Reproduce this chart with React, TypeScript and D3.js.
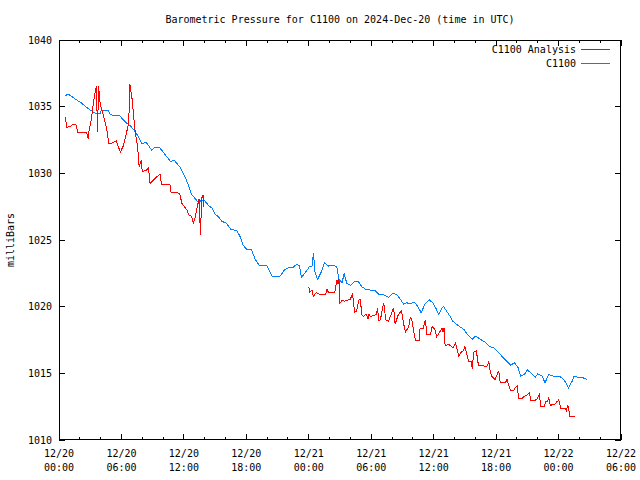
import React from "react";
import * as d3 from "d3";

const title = "Barometric Pressure for C1100 on 2024-Dec-20 (time in UTC)";
const yLabel = "milliBars";
const seriesNames = ["C1100 Analysis", "C1100"];
const seriesColors = ["#ff0000", "#0080ff"];
const yTicks = [1010, 1015, 1020, 1025, 1030, 1035, 1040];
const xTickHours = [0, 6, 12, 18, 24, 30, 36, 42, 48, 54];
const xTickLabels = [
  ["12/20", "00:00"], ["12/20", "06:00"], ["12/20", "12:00"], ["12/20", "18:00"],
  ["12/21", "00:00"], ["12/21", "06:00"], ["12/21", "12:00"], ["12/21", "18:00"],
  ["12/22", "00:00"], ["12/22", "06:00"],
];

// hours since 12/20 00:00 UTC, pressure in mb
const blueData: [number, number][] = [
  [0.6,1035.8],[0.85,1035.95],[1.15,1035.8],[1.7,1035.5],[2.2,1035.25],[2.65,1034.95],[3.0,1034.75],[3.6,1034.45],[3.95,1034.5],[4.1,1034.75],[4.75,1034.7],[4.9,1034.45],[5.2,1034.35],[5.85,1034.3],[6.2,1034.0],[6.5,1033.75],[6.8,1033.6],[7.15,1033.3],[7.5,1032.9],[7.8,1032.5],[7.95,1032.25],[8.4,1032.3],[8.9,1031.75],[9.2,1031.95],[9.7,1031.9],[10.2,1031.4],[10.7,1030.9],[11.1,1030.95],[11.6,1030.5],[12.1,1029.75],[12.45,1029.1],[12.75,1028.4],[13.1,1028.1],[13.4,1027.8],[13.7,1028.0],[14.0,1027.95],[14.35,1027.6],[14.7,1027.4],[15.0,1026.95],[15.3,1026.75],[15.65,1026.4],[16.1,1026.25],[16.5,1025.8],[17.1,1025.7],[17.4,1025.25],[17.7,1024.6],[18.05,1024.3],[18.5,1024.25],[18.85,1023.55],[19.25,1023.1],[19.95,1023.1],[20.45,1022.3],[21.25,1022.3],[21.7,1022.8],[22.2,1022.95],[22.5,1022.95],[22.85,1023.2],[23.1,1023.05],[23.3,1022.2],[23.8,1022.7],[24.1,1023.05],[24.3,1023.0],[24.45,1024.05],[24.6,1022.6],[24.85,1022.05],[25.2,1022.6],[25.5,1023.3],[25.9,1023.05],[26.4,1023.1],[26.7,1022.95],[26.9,1022.05],[27.2,1021.8],[27.4,1022.5],[27.65,1021.75],[28.0,1021.6],[28.4,1021.9],[28.8,1021.85],[29.1,1021.5],[29.45,1021.3],[29.9,1021.25],[30.4,1021.2],[30.7,1020.95],[31.2,1020.9],[31.65,1020.7],[32.05,1021.0],[32.45,1020.9],[32.8,1020.55],[33.1,1020.2],[33.4,1020.3],[33.75,1020.2],[34.1,1020.35],[34.4,1020.1],[34.8,1019.55],[35.2,1020.25],[35.6,1020.5],[35.9,1020.3],[36.2,1019.9],[36.5,1019.4],[36.8,1019.9],[36.95,1020.0],[37.3,1019.6],[37.6,1019.25],[37.85,1018.9],[38.4,1018.55],[38.9,1018.3],[39.2,1017.95],[39.7,1017.55],[40.0,1017.8],[40.5,1017.55],[41.0,1017.3],[41.4,1017.0],[41.8,1016.9],[42.3,1016.5],[42.65,1016.2],[43.05,1015.9],[43.4,1015.6],[43.75,1015.8],[44.1,1015.45],[44.35,1014.8],[44.7,1014.9],[45.0,1015.25],[45.4,1015.0],[45.75,1014.7],[46.0,1014.95],[46.4,1014.8],[46.7,1014.3],[47.05,1014.9],[47.5,1014.8],[48.15,1014.75],[48.55,1014.5],[48.95,1013.9],[49.3,1014.4],[49.5,1014.8],[49.9,1014.7],[50.4,1014.65],[50.7,1014.55],
];

const redSeg1: [number, number][] = [
  [0.6,1034.2],[0.75,1033.45],[1.05,1033.5],[1.4,1033.7],[1.6,1033.7],[1.8,1033.1],[2.65,1033.1],[2.8,1032.6],[2.9,1033.3],[3.1,1034.0],[3.3,1035.25],[3.5,1036.25],[3.6,1036.55],[3.7,1033.1],[3.8,1036.55],[3.95,1035.25],[4.25,1034.4],[4.6,1033.25],[4.8,1032.2],[5.2,1032.3],[5.5,1032.45],[5.75,1031.9],[5.9,1031.6],[6.2,1032.1],[6.5,1033.1],[6.7,1033.75],[6.8,1036.7],[7.0,1035.75],[7.3,1033.25],[7.55,1032.0],[7.7,1030.5],[7.9,1031.0],[8.0,1030.1],[8.4,1030.25],[8.6,1030.4],[8.75,1029.25],[9.2,1029.6],[9.7,1029.95],[9.8,1029.4],[9.85,1029.2],[10.65,1029.2],[10.75,1028.6],[11.6,1028.5],[11.8,1027.75],[12.3,1027.25],[12.45,1026.9],[12.75,1026.75],[12.9,1026.25],[13.1,1026.75],[13.45,1028.1],[13.6,1025.4],[13.7,1028.1],[13.85,1028.4],[13.9,1027.5],
];

const redSeg2: [number, number][] = [
  [24.0,1021.45],[24.1,1021.1],[24.3,1021.25],[24.45,1020.75],[24.7,1021.05],[24.9,1021.0],[25.1,1020.9],[25.6,1020.9],[25.75,1021.3],[25.9,1021.05],[26.5,1021.1],[26.7,1022.0],[26.8,1021.7],[26.9,1022.05],[27.0,1020.25],[27.2,1020.5],[27.4,1020.4],[27.75,1020.5],[28.0,1020.55],[28.2,1021.0],[28.4,1019.6],[28.6,1019.65],[28.8,1020.5],[28.95,1020.55],[29.1,1019.4],[29.25,1019.25],[29.5,1019.45],[29.7,1019.1],[29.8,1019.45],[29.9,1019.25],[30.5,1019.4],[30.6,1019.9],[30.75,1018.9],[30.9,1019.1],[31.2,1020.3],[31.4,1019.0],[31.65,1018.9],[32.0,1019.6],[32.15,1019.9],[32.3,1018.7],[32.6,1019.4],[32.9,1019.7],[33.1,1018.75],[33.3,1018.1],[33.6,1018.5],[33.75,1019.2],[33.9,1019.0],[34.1,1018.1],[34.25,1017.5],[34.6,1017.5],[34.7,1018.4],[35.0,1018.4],[35.2,1019.0],[35.35,1017.9],[35.7,1017.9],[35.85,1018.5],[36.1,1018.3],[36.3,1017.75],[36.5,1018.0],[36.8,1018.4],[36.9,1018.1],[37.0,1018.4],[37.1,1017.1],[37.5,1017.15],[37.85,1016.9],[38.1,1017.3],[38.4,1016.3],[38.6,1016.55],[38.85,1016.7],[39.0,1017.0],[39.2,1016.4],[39.35,1015.9],[39.65,1015.85],[39.7,1015.3],[39.85,1016.6],[40.1,1016.7],[40.3,1015.6],[40.6,1015.6],[41.0,1015.5],[41.15,1015.55],[41.3,1015.9],[41.4,1015.25],[41.6,1014.75],[41.9,1014.55],[42.1,1014.9],[42.25,1015.2],[42.4,1014.3],[42.9,1014.3],[43.05,1014.55],[43.2,1014.1],[43.4,1013.7],[43.7,1013.7],[43.8,1013.9],[44.05,1014.1],[44.15,1013.1],[44.5,1013.1],[44.65,1013.25],[45.0,1013.4],[45.2,1013.55],[45.35,1012.95],[45.65,1012.95],[45.9,1013.05],[46.15,1013.4],[46.3,1012.5],[46.6,1012.5],[46.8,1012.9],[46.95,1012.85],[47.05,1013.25],[47.2,1012.6],[47.7,1012.7],[47.85,1012.9],[47.95,1012.9],[48.0,1013.1],[48.2,1012.4],[48.6,1012.4],[48.75,1012.2],[48.9,1012.6],[49.1,1011.75],[49.6,1011.75],
];

const W = 640, H = 480;
const L = 59, R = 621, T = 40, B = 440;
const FONT = "'DejaVu Sans Mono', 'Liberation Mono', monospace";

export default function App() {
  const x = d3.scaleLinear().domain([0, 54]).range([L, R]);
  const y = d3.scaleLinear().domain([1010, 1040]).range([B, T]);
  const line = d3.line<[number, number]>().x(d => x(d[0])).y(d => y(d[1]));
  const minor = d3.range(0, 55, 2).filter(h => h % 6 !== 0);

  return (
    <svg width={W} height={H} style={{ position: "absolute", left: 0, top: 0, background: "#fff" }}
      fontFamily={FONT} fontSize={10}>
      <rect x={0} y={0} width={W} height={H} fill="#fff" />
      <text x={(L + R) / 2} y={23} textAnchor="middle" fill="#000">{title}</text>
      <text transform={`translate(14,${(T + B) / 2}) rotate(-90)`} textAnchor="middle" fill="#000">{yLabel}</text>

      <g stroke="#000" strokeWidth={1} shapeRendering="crispEdges">
        {yTicks.map(v => (
          <g key={v}>
            <line x1={L} x2={L + 6} y1={y(v)} y2={y(v)} />
            <line x1={R - 6} x2={R} y1={y(v)} y2={y(v)} />
          </g>
        ))}
        {xTickHours.map(h => (
          <g key={h}>
            <line x1={x(h)} x2={x(h)} y1={B} y2={B - 6} />
            <line x1={x(h)} x2={x(h)} y1={T} y2={T + 6} />
          </g>
        ))}
        {minor.map(h => (
          <g key={h}>
            <line x1={x(h)} x2={x(h)} y1={B} y2={B - 3} />
            <line x1={x(h)} x2={x(h)} y1={T} y2={T + 3} />
          </g>
        ))}
      </g>

      {yTicks.map(v => (
        <text key={v} x={52} y={y(v)} dy="0.35em" textAnchor="end" fill="#000">{v}</text>
      ))}
      {xTickHours.map((h, i) => (
        <g key={h}>
          <text x={x(h)} y={457} textAnchor="middle" fill="#000">{xTickLabels[i][0]}</text>
          <text x={x(h)} y={471} textAnchor="middle" fill="#000">{xTickLabels[i][1]}</text>
        </g>
      ))}

      <g fill="none" strokeWidth={1} strokeLinejoin="miter" shapeRendering="crispEdges">
        <path d={line(blueData) || ""} stroke={seriesColors[1]} />
        <path d={line(redSeg1) || ""} stroke={seriesColors[0]} />
        <path d={line(redSeg2) || ""} stroke={seriesColors[0]} />
      </g>

      {seriesNames.map((n, i) => (
        <g key={n}>
          <text x={576} y={49 + i * 14} dy="0.35em" textAnchor="end" fill="#000">{n}</text>
          <rect x={581} y={49 + i * 14} width={29} height={1} fill={seriesColors[i]} stroke="none" />
        </g>
      ))}

      <rect x={L + 0.5} y={T + 0.5} width={R - L - 1} height={B - T - 1} fill="none" stroke="#000" strokeWidth={1} shapeRendering="crispEdges" />
    </svg>
  );
}
